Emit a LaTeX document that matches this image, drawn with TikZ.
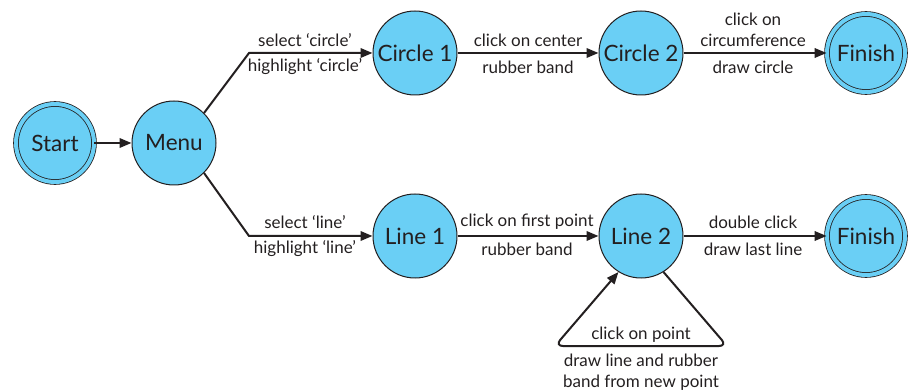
\documentclass[tikz,border=0pt]{standalone}
\usepackage{fontspec}
\setmainfont{Lato}
\usetikzlibrary{arrows.meta}
\definecolor{stfill}{RGB}{106,207,245}
\definecolor{ink}{RGB}{35,31,32}
\tikzset{
  x=1pt, y=-1pt,
  st/.style={circle, draw=ink, line width=1pt, fill=stfill, minimum size=84pt, inner sep=0pt, font=\fontsize{22.5}{26}\selectfont, text=ink},
  fin/.style={st, double=stfill, double distance=4pt, line width=0.8pt, minimum size=78pt},
  conn/.style={draw=ink, line width=2pt, -{Triangle[length=12pt,width=9.5pt]}},
  lbl/.style={font=\fontsize{17}{20.5}\selectfont, text=ink, align=center, inner sep=0pt}
}
\begin{document}
\begin{tikzpicture}
\useasboundingbox (0,0) rectangle (911,390);
\node[fin] (start) at (55,143) {Start};
\node[st] (menu) at (174,143) {Menu};
\node[st] (c1) at (415,53) {Circle 1};
\node[st] (c2) at (641,53) {Circle 2};
\node[fin] (f1) at (866,53) {Finish};
\node[st] (l1) at (415,236) {Line 1};
\node[st] (l2) at (641,236) {Line 2};
\node[fin] (f2) at (866,236) {Finish};
\coordinate (kc) at (249,53);
\coordinate (kl) at (249,236);
\coordinate (lr) at (727,346);
\coordinate (ll) at (555,346);

\draw[conn] (start) -- (menu);
\draw[conn] (menu.45) -- (kc) -- (c1);
\draw[conn] (menu.-45) -- (kl) -- (l1);
\draw[conn] (c1) -- (c2);
\draw[conn] (c2) -- (f1);
\draw[conn] (l1) -- (l2);
\draw[conn] (l2) -- (f2);
\draw[conn, rounded corners=8pt] (l2.-58) -- (lr) -- (ll) -- (l2.-122);

\node[lbl] (t1) at (305,40) {select ‘circle’};
\node[lbl] (t2) at (305,67) {highlight ‘circle’};
\node[lbl] (t3) at (305,222) {select ‘line’};
\node[lbl] (t4) at (305,249) {highlight ‘line’};
\node[lbl] (t5) at (528,40) {click on center};
\node[lbl] (t6) at (528,67) {rubber band};
\node[lbl] (t7) at (753,30) {click on\\circumference};
\node[lbl] (t8) at (753,67) {draw circle};
\node[lbl] (t9) at (527,222) {click on first point};
\node[lbl] (t10) at (527,249) {rubber band};
\node[lbl] (t11) at (753,222) {double click};
\node[lbl] (t12) at (753,249) {draw last line};
\node[lbl] (t13) at (641,335) {click on point};
\node[lbl] (t14) at (641,372) {draw line and rubber\\band from new point};
\end{tikzpicture}
\end{document}
